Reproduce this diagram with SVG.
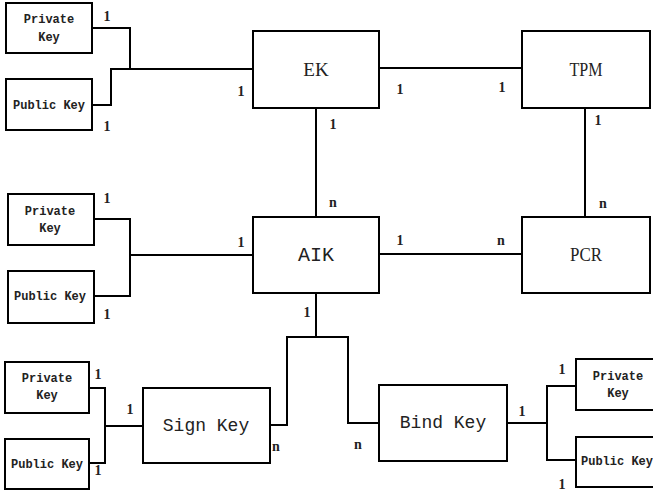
<svg xmlns="http://www.w3.org/2000/svg" width="653" height="491" viewBox="0 0 653 491">
<style>
.box{fill:#fff;stroke:#000;stroke-width:2}
.ln{fill:none;stroke:#000;stroke-width:2}
.sm{font-family:"Liberation Mono",monospace;font-size:12px;font-weight:bold;fill:#222;text-anchor:middle}
.md{font-family:"Liberation Mono",monospace;font-size:18px;fill:#222;text-anchor:middle}
.sf{font-family:"Liberation Serif",serif;font-size:19px;fill:#222;text-anchor:middle}
.lb{font-family:"Liberation Serif",serif;font-size:14px;font-weight:bold;fill:#222;text-anchor:middle}
</style>
<rect width="653" height="491" fill="#fff"/>
<g id="connectors">
<polyline class="ln" points="92,28 130,28 130,69"/>
<polyline class="ln" points="92,105 111,105 111,69 253,69"/>
<line class="ln" x1="379" y1="68" x2="522" y2="68"/>
<line class="ln" x1="316" y1="108" x2="316" y2="217"/>
<line class="ln" x1="585" y1="108" x2="585" y2="217"/>
<polyline class="ln" points="94,219 130,219 130,296 94,296"/>
<line class="ln" x1="130" y1="255" x2="253" y2="255"/>
<line class="ln" x1="379" y1="254" x2="522" y2="254"/>
<polyline class="ln" points="316,293 316,337 287,337 287,425 270,425"/>
<polyline class="ln" points="316,337 348,337 348,423 379,423"/>
<polyline class="ln" points="89,388 105,388 105,463 89,463"/>
<line class="ln" x1="105" y1="426" x2="143" y2="426"/>
<line class="ln" x1="507" y1="423" x2="547" y2="423"/>
<polyline class="ln" points="576,386 547,386 547,460 576,460"/>
</g>
<g id="pk1"><rect class="box" x="6" y="3" width="86" height="50"/><text class="sm" x="49" y="23">Private</text><text class="sm" x="49" y="41">Key</text></g>
<g id="pub1"><rect class="box" x="6" y="79" width="86" height="51"/><text class="sm" x="49" y="109">Public Key</text></g>
<g id="ek"><rect class="box" x="253" y="31" width="126" height="77"/><text class="sf" x="316" y="76">EK</text></g>
<g id="tpm"><rect class="box" x="522" y="31" width="128" height="77"/><text class="sf" x="586" y="76" textLength="33" lengthAdjust="spacingAndGlyphs">TPM</text></g>
<g id="pk2"><rect class="box" x="8" y="194" width="86" height="51"/><text class="sm" x="50" y="215">Private</text><text class="sm" x="50" y="232">Key</text></g>
<g id="pub2"><rect class="box" x="8" y="271" width="86" height="52"/><text class="sm" x="50" y="300">Public Key</text></g>
<g id="aik"><rect class="box" x="253" y="217" width="126" height="76"/><text class="md" x="316" y="261" style="font-size:20px">AIK</text></g>
<g id="pcr"><rect class="box" x="522" y="217" width="128" height="76"/><text class="sf" x="586" y="261" textLength="32" lengthAdjust="spacingAndGlyphs">PCR</text></g>
<g id="pk3"><rect class="box" x="5" y="362" width="84" height="51"/><text class="sm" x="47" y="382">Private</text><text class="sm" x="47" y="399">Key</text></g>
<g id="pub3"><rect class="box" x="5" y="439" width="84" height="50"/><text class="sm" x="47" y="468">Public Key</text></g>
<g id="sign"><rect class="box" x="143" y="388" width="127" height="75"/><text class="md" x="206" y="431">Sign Key</text></g>
<g id="bind"><rect class="box" x="379" y="385" width="128" height="76"/><text class="md" x="443" y="428">Bind Key</text></g>
<g id="pk4"><rect class="box" x="576" y="359" width="90" height="51"/><text class="sm" x="618" y="380">Private</text><text class="sm" x="618" y="397">Key</text></g>
<g id="pub4"><rect class="box" x="576" y="437" width="90" height="50"/><text class="sm" x="617" y="465">Public Key</text></g>
<g id="labels">
<text class="lb" x="107" y="21">1</text>
<text class="lb" x="107" y="131">1</text>
<text class="lb" x="241" y="96">1</text>
<text class="lb" x="400" y="94">1</text>
<text class="lb" x="502" y="92">1</text>
<text class="lb" x="333" y="129">1</text>
<text class="lb" x="333" y="207">n</text>
<text class="lb" x="598" y="125">1</text>
<text class="lb" x="603" y="208">n</text>
<text class="lb" x="107" y="203">1</text>
<text class="lb" x="107" y="319">1</text>
<text class="lb" x="241" y="247">1</text>
<text class="lb" x="400" y="245">1</text>
<text class="lb" x="501" y="245">n</text>
<text class="lb" x="307" y="317">1</text>
<text class="lb" x="98" y="379">1</text>
<text class="lb" x="98" y="475">1</text>
<text class="lb" x="130" y="414">1</text>
<text class="lb" x="276" y="451">n</text>
<text class="lb" x="358" y="449">n</text>
<text class="lb" x="522" y="416">1</text>
<text class="lb" x="562" y="374">1</text>
<text class="lb" x="562" y="489">1</text>
</g>
</svg>
